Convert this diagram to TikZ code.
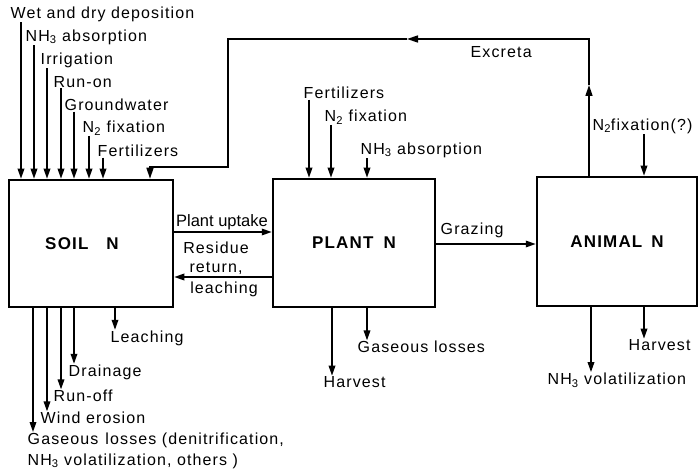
\documentclass[tikz,border=0pt]{standalone}
\usepackage{fontspec}
\setmainfont[LetterSpace=7]{Liberation Sans}
\newfontfamily\plainsans{Liberation Sans}
\usetikzlibrary{arrows.meta}

\begin{document}
\begin{tikzpicture}[x=1pt,y=-1pt,
        box/.style={draw, line width=2.5pt, inner sep=0pt, font=\fontsize{17}{20}\selectfont\bfseries},
        lbl/.style={inner sep=0.5pt, font=\fontsize{16}{19}\selectfont},
        flow/.style={line width=1.7pt, -{Triangle[length=10pt,width=6.5pt]}},
        back/.style={line width=1.5pt, -{Triangle[length=11pt,width=7pt]}}]
        \useasboundingbox (0,0) rectangle (699,476);
        \node[box, minimum width=164pt, minimum height=127pt] (soil) at (91,243.5) {\hspace*{-18pt}SOIL\hspace{18pt}N};
        \node[box, minimum width=162pt, minimum height=128pt] (plant) at (354,243) {PLANT\hspace{10pt}N};
        \node[box, minimum width=160pt, minimum height=129pt] (animal) at (617,241.5) {ANIMAL\hspace{9pt}N};
        \foreach \n/\lx/\ly/\ax/\t in {w1/10/14/21/{Wet and dry deposition}, w2/25/37/34/{NH\textsubscript{3} absorption},
                w3/40/60/47/Irrigation, w4/53/82/61/Run-on, w5/64/105/74/Groundwater,
                w6/82/128/89/{N\textsubscript{2} fixation}, w7/97/151/103/Fertilizers}{
            \node[lbl, anchor=west] (\n) at (\lx,\ly) {\t};
            \draw[flow] (\ax,0 |- \n.south) -- (\ax,0 |- soil.north);
        }
        \foreach \n/\lx/\ly/\ax/\t in {p1/303/93/309/Fertilizers, p2/324/117/331/{N\textsubscript{2} fixation},
                p3/360/150/367/{NH\textsubscript{3} absorption}}{
            \node[lbl, anchor=west] (\n) at (\lx,\ly) {\t};
            \draw[flow] (\ax,0 |- \n.south) -- (\ax,0 |- plant.north);
        }
        \node[lbl, anchor=west] (a1) at (592,126) {N\textsubscript{2}fixation(?)};
        \draw[flow] (644,0 |- a1.south) -- (644,0 |- animal.north);
        \foreach \n/\lx/\ly/\ax/\t in {s1/110/338/115/Leaching, s2/68/372/74/Drainage, s3/53/396/61/Run-off,
                s4/40/418/47/{Wind erosion}}{
            \node[lbl, anchor=west] (\n) at (\lx,\ly) {\t};
            \draw[flow] (\ax,0 |- soil.south) -- (\ax,0 |- \n.north);
        }
        \node[lbl, anchor=north west, align=left] (s5) at (27,432) {Gaseous\hspace{7pt}losses (denitrification,\\[2pt]NH\textsubscript{3} volatilization, others )};
        \draw[flow] (33,0 |- soil.south) -- (33,0 |- s5.north);
        \foreach \n/\lx/\ly/\ax/\t/\b in {h1/323/382/332/Harvest/plant, g1/357/347/367/{Gaseous losses}/plant,
                h2/628/345/644/Harvest/animal, v2/547/380/591/{NH\textsubscript{3} volatilization}/animal}{
            \node[lbl, anchor=west] (\n) at (\lx,\ly) {\t};
            \draw[flow] (\ax,0 |- \b.south) -- (\ax,0 |- \n.north);
        }
        \draw[flow] (soil.east |- 0,232) -- (plant.west |- 0,232);
        \node[inner sep=0.5pt, font=\fontsize{16.5}{18}\selectfont\plainsans] (upt) at (222,222) {Plant uptake};
        \draw[flow] (plant.west |- 0,277) -- (soil.east |- 0,277);
        \node[lbl, align=center] (res) at (216,258) {Residue\\return,};
        \node[lbl] (lea) at (224,289) {leaching};
        \draw[flow] (plant.east |- 0,244) -- (animal.west |- 0,244);
        \node[lbl, anchor=west] (gra) at (440,230) {Grazing};
        \coordinate (m1) at (589,85);
        \coordinate (e1) at (589,39);
        \coordinate (m2) at (407,39);
        \coordinate (e2) at (228,39);
        \coordinate (e3) at (228,167);
        \coordinate (e4) at (150,167);
        \draw[back] (m1 |- animal.north) -- (m1);
        \draw[back] (m1) -- (e1) -- (m2);
        \draw[back] (m2) -- (e2) -- (e3) -- (e4) -- (e4 |- soil.north);
        \node[lbl, anchor=west] (exc) at (470,52) {Excreta};
    \end{tikzpicture}
\end{document}
